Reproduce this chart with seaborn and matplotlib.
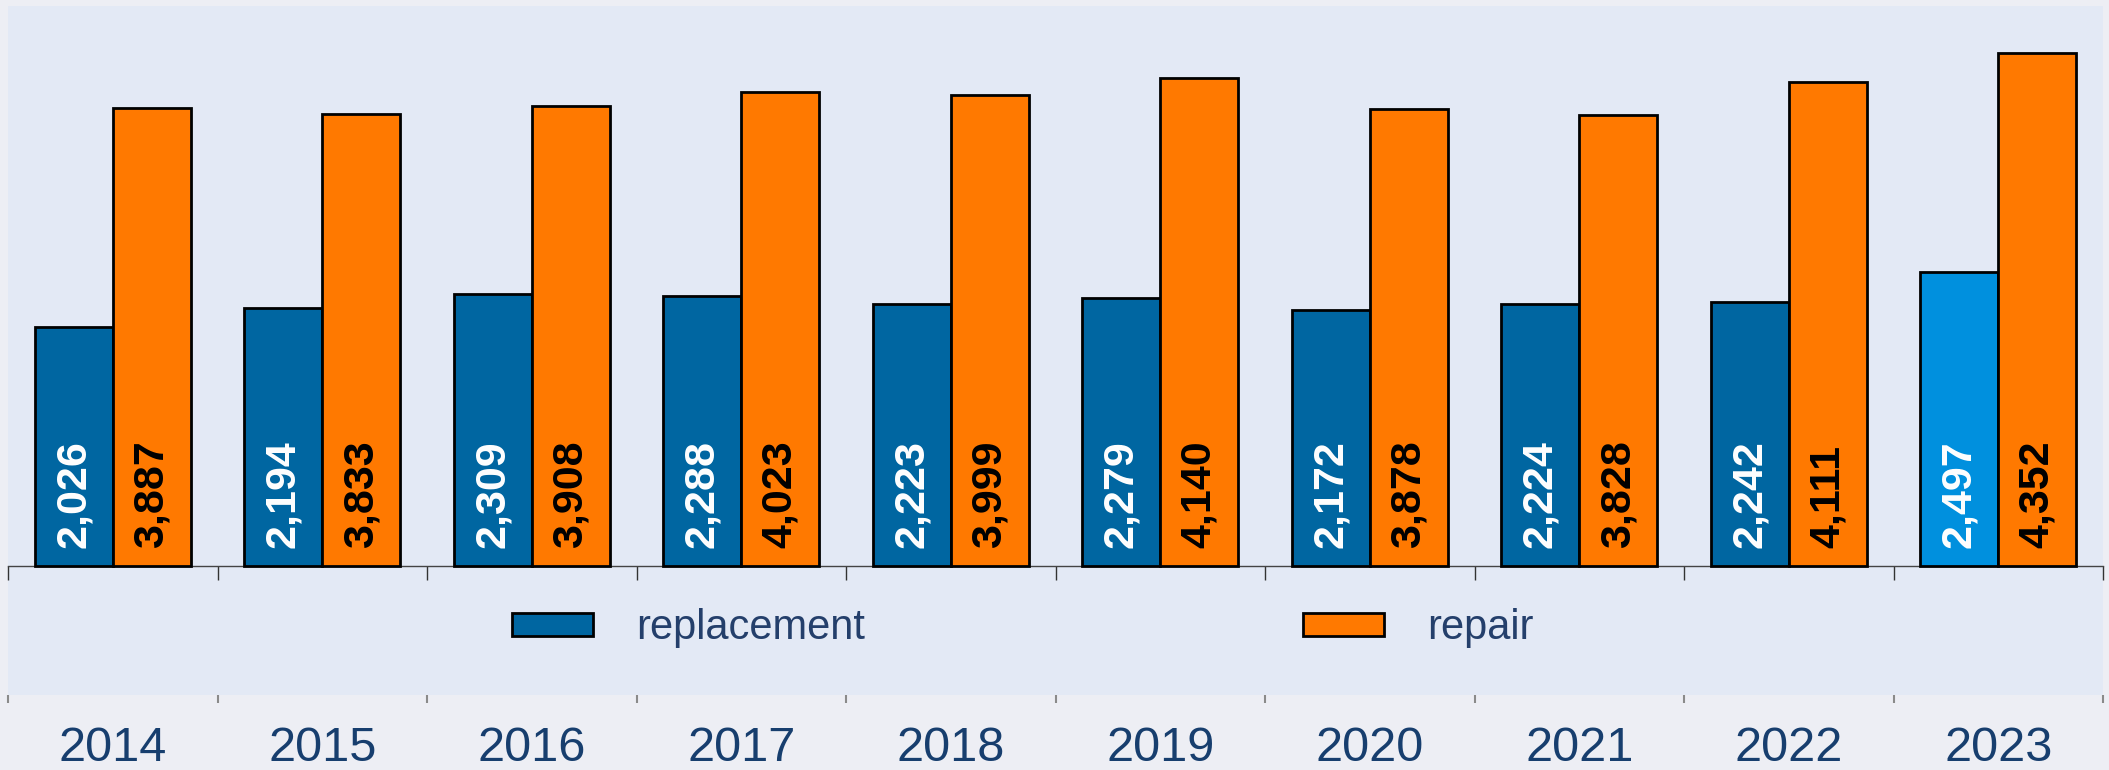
import pandas as pd
import matplotlib.pyplot as plt
from matplotlib.patches import Patch
import seaborn as sns

# values
years = ['2014', '2015', '2016', '2017', '2018', '2019', '2020', '2021', '2022', '2023']
replacement = [2026, 2194, 2309, 2288, 2223, 2279, 2172, 2224, 2242, 2497]
repair = [3887, 3833, 3908, 4023, 3999, 4140, 3878, 3828, 4111, 4352]
series_names = ['replacement', 'repair']

df = pd.DataFrame({
    'year': years * 2,
    'count': replacement + repair,
    'type': ['replacement'] * len(years) + ['repair'] * len(years),
})

# colours
blue = '#0066A1'
blue_latest = '#0090DE'
orange = '#FF7900'
plot_bg = '#E3E9F5'
fig_bg = '#EDEEF4'
year_col = '#173E6E'
legend_col = '#243F6B'

plt.rcParams['font.family'] = ['Liberation Sans', 'DejaVu Sans']

fig = plt.figure(figsize=(21.09, 7.7), dpi=100, facecolor=fig_bg)
ax = fig.add_axes([8 / 2109, 75 / 770, 2095 / 2109, 689 / 770])
ax.set_facecolor(plot_bg)

sns.barplot(data=df, x='year', y='count', hue='type', hue_order=series_names,
            palette=[blue, orange], saturation=1, width=0.745, gap=0,
            edgecolor='black', linewidth=2, legend=False, ax=ax)

# latest replacement bar is highlighted in a lighter blue
ax.containers[0][-1].set_facecolor(blue_latest)

ymin, ymax = -1095, 4754
ax.set_ylim(ymin, ymax)
ax.set_xlim(-0.5, len(years) - 0.5)

# value labels inside the bars
for cont, vals, col in zip(ax.containers, [replacement, repair], ['white', 'black']):
    for bar, v in zip(cont, vals):
        ax.annotate(f'{v:,}', (bar.get_x() + bar.get_width() / 2, 0),
                    xytext=(0, 13), textcoords='offset points',
                    rotation=90, ha='center', va='bottom',
                    fontsize=31, fontweight='bold', color=col)

for s in ax.spines.values():
    s.set_visible(False)
ax.set_yticks([])
ax.set_xlabel('')
ax.set_ylabel('')

# year labels at the bottom, small grey ticks at group boundaries
bounds = [i - 0.5 for i in range(len(years) + 1)]
ax.set_xticks(bounds)
ax.set_xticklabels([])
ax.tick_params(axis='x', which='major', direction='out', length=6, width=1.5, color='#8a8a8a', pad=0)
ax.set_xticks(range(len(years)), minor=True)
ax.set_xticklabels(years, minor=True)
ax.tick_params(axis='x', which='minor', length=0, pad=22, labelsize=35, labelcolor=year_col)

# baseline at zero with ticks between the groups
base = ax.secondary_xaxis((0 - ymin) / (ymax - ymin))
base.set_xticks(bounds)
base.set_xticklabels([])
base.tick_params(direction='out', length=10, width=1, color='#333333')
base.spines['bottom'].set_color('#444444')
base.spines['bottom'].set_linewidth(1)

handles = [Patch(facecolor=blue, edgecolor='black', linewidth=2),
           Patch(facecolor=orange, edgecolor='black', linewidth=2)]
ax.legend(handles, series_names, loc='center', bbox_to_anchor=(0.4845, 0.097),
          ncol=2, frameon=False, fontsize=30, labelcolor=legend_col,
          handlelength=1.94, handleheight=0.48, handletextpad=1.05,
          columnspacing=10.5)

fig.savefig('out.png', dpi=100, facecolor=fig_bg)
